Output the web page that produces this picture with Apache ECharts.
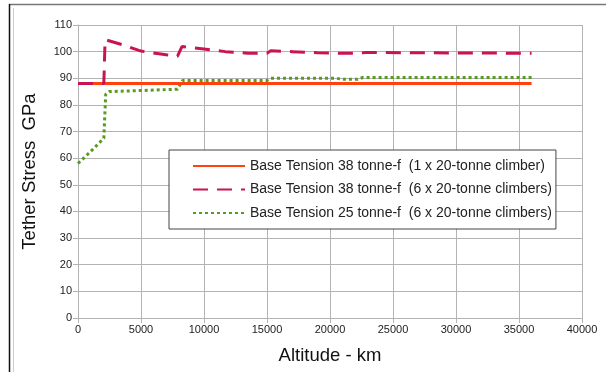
<!DOCTYPE html>
<html>
<head>
<meta charset="utf-8">
<script src="https://cdn.jsdelivr.net/npm/echarts@6/dist/echarts.min.js"></script>
<style>
html,body{margin:0;padding:0;background:#fff;}
#c{width:606px;height:372px;}
</style>
</head>
<body>
<div id="c"></div>
<script>
const seriesNames = [
  'Base Tension 38 tonne-f  (1 x 20-tonne climber)',
  'Base Tension 38 tonne-f  (6 x 20-tonne climbers)',
  'Base Tension 25 tonne-f  (6 x 20-tonne climbers)'
];
const xTicks = [0, 5000, 10000, 15000, 20000, 25000, 30000, 35000, 40000];
const yTicks = [0, 10, 20, 30, 40, 50, 60, 70, 80, 90, 100, 110];

const altRed = [0, 36000];
const stressRed = [88, 88];

const altDash = [0, 2050, 2150, 3600, 5000, 7000, 7900, 8250, 10000, 11700, 13500, 15000, 15300, 17000, 19000, 21000, 22300, 22800, 26000, 30000, 36000];
const stressDash = [88, 88, 104.5, 102.5, 100.2, 98.8, 98.3, 101.9, 101.0, 100.0, 99.4, 99.4, 100.3, 100.0, 99.6, 99.4, 99.4, 99.7, 99.6, 99.5, 99.4];

const altDot = [0, 1000, 2050, 2200, 2500, 5000, 7900, 8300, 10000, 15000, 15300, 20500, 21000, 22200, 22600, 36000];
const stressDot = [58, 62.5, 67.5, 84, 85, 85.4, 85.9, 89.2, 89.2, 89.2, 90.0, 90.0, 89.6, 89.6, 90.3, 90.3];

const zip = (a, b) => a.map((v, i) => [v, b[i]]);

const font = '"Liberation Sans", Arial, sans-serif';
const chart = echarts.init(document.getElementById('c'), null, {renderer: 'canvas'});
chart.setOption({
  animation: false,
  backgroundColor: '#fff',
  grid: {left: 78, right: 24, top: 25, bottom: 54},
  graphic: [
    {type: 'line', shape: {x1: 9, y1: 4.5, x2: 606, y2: 4.5}, style: {stroke: '#777', lineWidth: 1.5}},
    {type: 'line', shape: {x1: 9.5, y1: 4, x2: 9.5, y2: 372}, style: {stroke: '#111', lineWidth: 1.5}},
    {type: 'line', shape: {x1: 13.5, y1: 8, x2: 13.5, y2: 372}, style: {stroke: '#ccc', lineWidth: 1}}
  ],
  legend: {
    orient: 'vertical',
    left: 169, top: 150,
    padding: [9, 4, 9, 23],
    itemWidth: 52, itemHeight: 14, itemGap: 9.5,
    borderColor: '#444', borderWidth: 1,
    backgroundColor: '#fff',
    itemStyle: {opacity: 0},
    textStyle: {fontFamily: font, fontSize: 14, color: '#222'},
    data: seriesNames
  },
  xAxis: {
    type: 'value', min: xTicks[0], max: xTicks[xTicks.length - 1], interval: 5000,
    name: 'Altitude - km', nameLocation: 'middle', nameGap: 28,
    nameTextStyle: {fontFamily: font, fontSize: 18.5, color: '#111'},
    axisLine: {show: true, lineStyle: {color: '#b3b3b3'}},
    axisTick: {show: true, length: 5, lineStyle: {color: '#b3b3b3'}},
    axisLabel: {fontFamily: font, fontSize: 11, color: '#222', margin: 6, formatter: v => String(v)},
    splitLine: {show: true, lineStyle: {color: '#b3b3b3'}}
  },
  yAxis: {
    type: 'value', min: yTicks[0], max: yTicks[yTicks.length - 1], interval: 10,
    name: 'Tether Stress  GPa', nameLocation: 'middle', nameGap: 39,
    nameTextStyle: {fontFamily: font, fontSize: 18.5, color: '#111'},
    axisLine: {show: true, lineStyle: {color: '#b3b3b3'}},
    axisTick: {show: true, length: 5, lineStyle: {color: '#b3b3b3'}},
    axisLabel: {fontFamily: font, fontSize: 11, color: '#222', margin: 6},
    splitLine: {show: true, lineStyle: {color: '#b3b3b3'}}
  },
  series: [
    {
      name: seriesNames[0], type: 'line', symbol: 'none', z: 3,
      data: zip(altRed, stressRed),
      itemStyle: {color: '#ff420e'},
      lineStyle: {color: '#ff420e', width: 3}
    },
    {
      name: seriesNames[1], type: 'line', symbol: 'none', z: 4,
      data: zip(altDash, stressDash),
      itemStyle: {color: '#c81450'},
      lineStyle: {color: '#c81450', width: 3, type: [15, 9]}
    },
    {
      name: seriesNames[2], type: 'line', symbol: 'none', z: 2,
      data: zip(altDot, stressDot),
      itemStyle: {color: '#579d1c'},
      lineStyle: {color: '#579d1c', width: 3, type: [3, 3]}
    }
  ]
});
</script>
</body>
</html>
